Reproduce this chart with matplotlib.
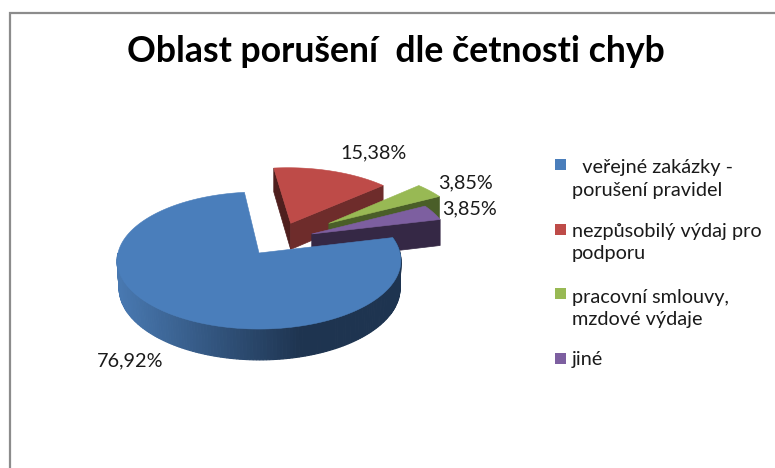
import numpy as np
import matplotlib
matplotlib.use("Agg")
import matplotlib.pyplot as plt
from matplotlib.patches import Polygon, Rectangle

title = "Oblast porušení  dle četnosti chyb"
labels = ["  veřejné zakázky -\nporušení pravidel",
          "nezpůsobilý výdaj pro\npodporu",
          "pracovní smlouvy,\nmzdové výdaje",
          "jiné"]
values = [76.92, 15.38, 3.85, 3.85]

colors = ["#4a7ebb", "#be4b48", "#98b954", "#7d5fa0"]
side_colors = [None, "#6e2c2b", "#4a5e28", "#352845"]
back_side_colors = [None, "#4f1f1e", None, None]
# explosion of each slice in the plane of the pie
offsets = [(0, 0), (0.236, 0.461), (0.52, 0.46), (0.386, 0.29)]
label_pos = [(130, 361), (373, 153), (466, 183), (470, 209)]
legend_y = [164.5, 229, 293.5, 358.5]
legend_text_y = [179, 242.5, 308.5, 360]

CX, CY = 259, 253
A, B, K = 141, 67.7, 0.1095
DEPTH = 27.5
START = 13.5


def project(u, v, drop=False):
    # tilted circle with a bit of perspective, to pixels
    w = 1 + K * v
    x = CX + A * u / w
    y = CY - B * v / w
    if drop:
        y = y + DEPTH / w
    return x, y


def pts(u, v, drop=False):
    x, y = project(np.asarray(u, float), np.asarray(v, float), drop)
    return np.column_stack([x, y])


fig = plt.figure(figsize=(7.75, 4.68), dpi=100)
ax = fig.add_axes([0, 0, 1, 1])
ax.set_xlim(0, 775)
ax.set_ylim(468, 0)
ax.axis("off")

# frame of the pasted chart
ax.plot([10, 10, 775], [468, 13, 13], color="#8c8c8c", lw=1.6, solid_joinstyle="miter")

# slice angles, clockwise from START
angles = [START]
for val in values:
    angles.append(angles[-1] - val * 3.6)
edges = [(angles[i], angles[i + 1]) for i in range(len(values))]

# back slices first, blue goes on top
for i in [1, 2, 3, 0]:
    a0, a1 = np.radians(edges[i][0]), np.radians(edges[i][1])
    ox, oy = offsets[i]
    t = np.linspace(a0, a1, 200)
    if i == 0:
        # round side of the big slice with the shading
        ts = np.radians(np.linspace(edges[0][0], -180, 160))
        for j in range(len(ts) - 1):
            seg = ts[j:j + 2]
            up = pts(np.cos(seg), np.sin(seg))
            down = pts(np.cos(seg) * 0.99 + 0.004, np.sin(seg), True)[::-1]
            f = np.clip((up[:, 0].mean() - 120) / 180, 0, 1)
            c = (1 - f) * np.array([0x48, 0x78, 0xb0]) + f * np.array([0x1e, 0x34, 0x50])
            c = c / 255
            ax.add_patch(Polygon(np.vstack([up, down]), facecolor=c, edgecolor=c, lw=0.8))
    else:
        # flat cut faces of the pulled out slices
        for ang, col in [(a0, back_side_colors[i]), (a1, side_colors[i])]:
            if col is None:
                continue
            u = [ox, ox + np.cos(ang)]
            v = [oy, oy + np.sin(ang)]
            quad = np.vstack([pts(u, v), pts(u, v, True)[::-1]])
            ax.add_patch(Polygon(quad, facecolor=col, edgecolor=col, lw=0.5))
    u = np.r_[ox, ox + np.cos(t)]
    v = np.r_[oy, oy + np.sin(t)]
    ax.add_patch(Polygon(pts(u, v), facecolor=colors[i], edgecolor=colors[i], lw=0.4))

ax.text(396, 52, title, ha="center", va="center", fontsize=25.7, fontweight="bold",
        family="Lato", color="black")

for val, (x, y) in zip(values, label_pos):
    ax.text(x, y, f"{val:.2f}%".replace(".", ","), ha="center", va="center",
            fontsize=14.3, family="Lato", color="#1a1a1a")

for lab, col, y0, y1 in zip(labels, colors, legend_y, legend_text_y):
    ax.add_patch(Rectangle((555, y0 - 5.5), 10.5, 11, facecolor=col, edgecolor="none"))
    ax.text(572, y1, lab, ha="left", va="center", fontsize=14.3, family="Lato",
            color="#1a1a1a", linespacing=1.4)

fig.savefig("out.png", dpi=100)
